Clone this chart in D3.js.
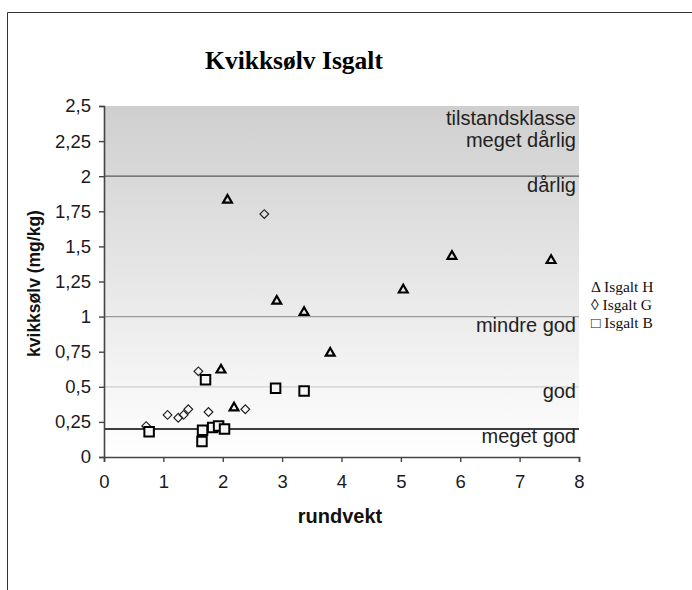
<!DOCTYPE html>
<html><head><meta charset="utf-8">
<script src="https://cdn.jsdelivr.net/npm/d3@7"></script>
<style>html,body{margin:0;padding:0;background:#fff;}svg{display:block;}</style>
</head><body>
<svg id="c" width="692" height="590"></svg>
<script>
// ---- data ----
const seriesNames = ["Isgalt H", "Isgalt G", "Isgalt B"];
const legendSymbols = ["\u0394", "\u25CA", "\u25A1"];
const hX = [2.08, 2.91, 3.37, 3.81, 5.04, 5.86, 7.53, 1.97, 2.19];
const hY = [1.83, 1.11, 1.03, 0.74, 1.19, 1.43, 1.40, 0.62, 0.35];
const gX = [0.71, 1.07, 1.25, 1.34, 1.42, 1.59, 1.76, 2.38, 2.70];
const gY = [0.22, 0.30, 0.28, 0.30, 0.34, 0.61, 0.32, 0.34, 1.73];
const bX = [0.76, 1.66, 1.65, 1.83, 1.93, 2.03, 1.71, 2.89, 3.37];
const bY = [0.18, 0.19, 0.11, 0.21, 0.22, 0.20, 0.55, 0.49, 0.47];
const yTicks = [0, 0.25, 0.5, 0.75, 1, 1.25, 1.5, 1.75, 2, 2.25, 2.5];
const yTickLabels = ["0", "0,25", "0,5", "0,75", "1", "1,25", "1,5", "1,75", "2", "2,25", "2,5"];
const xTicks = [0, 1, 2, 3, 4, 5, 6, 7, 8];
const classLimits = [2, 1, 0.5, 0.2];
const classLabels = [
  {text: "tilstandsklasse", v: 2.5, dy: 19},
  {text: "meget dårlig", v: 2.5, dy: 41},
  {text: "dårlig", v: 2, dy: 16},
  {text: "mindre god", v: 1, dy: 15},
  {text: "god", v: 0.5, dy: 11},
  {text: "meget god", v: 0.2, dy: 14}
];
const title = "Kvikksølv Isgalt";
const xTitle = "rundvekt";
const yTitle = "kvikksølv (mg/kg)";

// ---- drawing ----
const svg = d3.select("#c");
const L = 104, R = 579, T = 106, B = 457;
const x = d3.scaleLinear().domain([0, 8]).range([L, R]);
const y = d3.scaleLinear().domain([0, 2.5]).range([B, T]);

// outer frame
svg.append("path").attr("d", "M7.5,600 V12.5 H700").attr("fill", "none").attr("stroke", "#333").attr("stroke-width", 1);

// background gradient
const defs = svg.append("defs");
const grad = defs.append("linearGradient").attr("id", "bg").attr("x1", 0).attr("y1", 0).attr("x2", 0).attr("y2", 1);
grad.append("stop").attr("offset", "0%").attr("stop-color", "#cfcfcf");
grad.append("stop").attr("offset", "100%").attr("stop-color", "#ffffff");
svg.append("rect").attr("x", x(0)).attr("y", y(2.5)).attr("width", x(8) - x(0)).attr("height", y(0) - y(2.5)).attr("fill", "url(#bg)");

// class limit lines
const limitColors = ["#5a5a5a", "#9a9a9a", "#cfcfcf", "#000"];
const limitWidths = [1.3, 1.2, 1.2, 1.5];
classLimits.forEach((v, i) => {
  svg.append("line").attr("x1", x(0)).attr("x2", x(8)).attr("y1", y(v)).attr("y2", y(v))
    .attr("stroke", limitColors[i]).attr("stroke-width", limitWidths[i]);
});

// class labels
svg.append("g").selectAll("text").data(classLabels).join("text")
  .attr("x", x(8) - 3).attr("y", d => y(d.v) + d.dy)
  .attr("text-anchor", "end").attr("font-family", "Liberation Sans, Arial, sans-serif")
  .attr("font-size", 20).attr("fill", "#222").text(d => d.text);

// axes
const yAxis = d3.axisLeft(y).tickValues(yTicks).tickFormat((d, i) => yTickLabels[i]).tickSize(5).tickPadding(8);
const xAxis = d3.axisBottom(x).tickValues(xTicks).tickSize(5).tickPadding(13);
const gy = svg.append("g").attr("transform", `translate(${x(0)},0)`).call(yAxis);
const gx = svg.append("g").attr("transform", `translate(0,${y(0)})`).call(xAxis);
[gx, gy].forEach(g => {
  g.select(".domain").attr("stroke", "#444").attr("stroke-width", 1.6);
  g.selectAll(".tick line").attr("stroke", "#444").attr("stroke-width", 1.4);
  g.selectAll(".tick text").attr("font-family", "Liberation Sans, Arial, sans-serif").attr("font-size", 18.5).attr("fill", "#1a1a22");
});

// markers
const H = hX.map((v, i) => ({x: v, y: hY[i]}));
const G = gX.map((v, i) => ({x: v, y: gY[i]}));
const Bs = bX.map((v, i) => ({x: v, y: bY[i]}));
svg.append("g").selectAll("path").data(H).join("path")
  .attr("d", d3.symbol().type(d3.symbolTriangle).size(34))
  .attr("transform", d => `translate(${x(d.x)},${y(d.y)})`)
  .attr("fill", "none").attr("stroke", "#000").attr("stroke-width", 2.2).attr("stroke-linejoin", "miter");
svg.append("g").selectAll("path").data(G).join("path")
  .attr("d", d3.symbol().type(d3.symbolSquare).size(38))
  .attr("transform", d => `translate(${x(d.x)},${y(d.y)}) rotate(45)`)
  .attr("fill", "none").attr("stroke", "#222").attr("stroke-width", 1.2);
svg.append("g").selectAll("path").data(Bs).join("path")
  .attr("d", d3.symbol().type(d3.symbolSquare).size(90))
  .attr("transform", d => `translate(${x(d.x)},${y(d.y)})`)
  .attr("fill", "#f7f7f7").attr("stroke", "#000").attr("stroke-width", 2);

// titles
svg.append("text").attr("x", 294).attr("y", 69).attr("text-anchor", "middle")
  .attr("font-family", "Liberation Serif, Times New Roman, serif").attr("font-weight", "bold")
  .attr("font-size", 25.5).attr("fill", "#000").text(title);
svg.append("text").attr("x", 340).attr("y", 523).attr("text-anchor", "middle")
  .attr("font-family", "Liberation Sans, Arial, sans-serif").attr("font-weight", "bold")
  .attr("font-size", 20).attr("fill", "#111").text(xTitle);
svg.append("text").attr("transform", `translate(40,${(T + B) / 2 + 2}) rotate(-90)`).attr("text-anchor", "middle")
  .attr("font-family", "Liberation Sans, Arial, sans-serif").attr("font-weight", "bold")
  .attr("font-size", 17.5).attr("fill", "#111").text(yTitle);

// legend
svg.append("g").selectAll("text").data(seriesNames).join("text")
  .attr("x", 591).attr("y", (d, i) => 292 + i * 18)
  .attr("font-family", "Liberation Serif, Times New Roman, serif").attr("font-size", 15.5).attr("fill", "#111")
  .text((d, i) => legendSymbols[i] + " " + d);
</script>
</body></html>
